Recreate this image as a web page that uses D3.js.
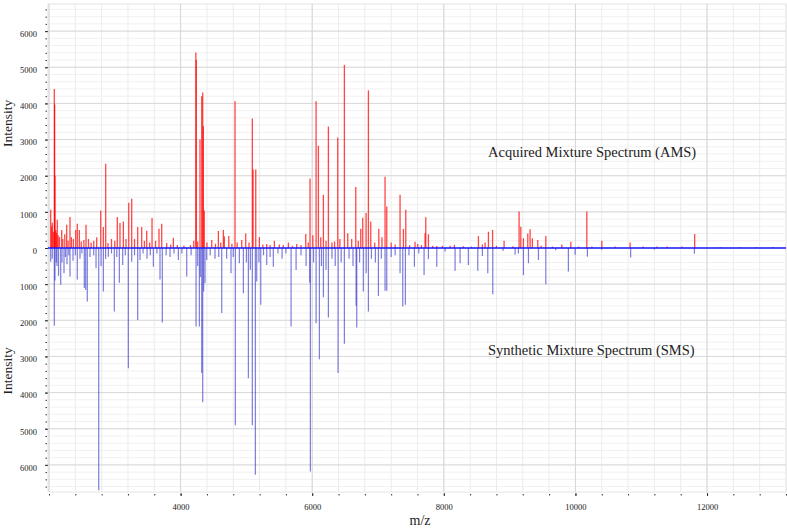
<!DOCTYPE html>
<html>
<head>
<meta charset="utf-8">
<script src="https://cdn.jsdelivr.net/npm/d3@7"></script>
<style>
body { margin: 0; background: #fff; }
text { font-family: "Liberation Serif", "Times New Roman", serif; fill: #222; }
</style>
</head>
<body>
<script>
// Acquired Mixture Spectrum (upward, red)
const amsMz = [2026, 2041, 2050, 2066, 2081, 2086, 2091, 2103, 2112, 2126, 2140, 2160, 2193, 2210, 2240, 2269, 2290, 2319, 2340, 2370,
  2406, 2430, 2461, 2490, 2530, 2563, 2600, 2640, 2680, 2725, 2786, 2826, 2862, 2897, 2950, 3000, 3038, 3079, 3130, 3170,
  3212, 3257, 3300, 3348, 3409, 3450, 3485, 3530, 3566, 3620, 3672, 3713, 3789, 3850, 3890, 3950, 4050, 4150, 4200, 4232,
  4238, 4260, 4295, 4321, 4336, 4346, 4360, 4400, 4473, 4530, 4574, 4610, 4650, 4665, 4732, 4780, 4827, 4860, 4929, 4990,
  5040, 5090, 5101, 5142, 5197, 5250, 5309, 5360, 5425, 5500, 5560, 5638, 5700, 5765, 5830, 5902, 5940, 5967, 6010, 6059,
  6094, 6130, 6170, 6210, 6246, 6300, 6340, 6388, 6420, 6489, 6540, 6600, 6662, 6700, 6738, 6768, 6819, 6854, 6890, 6950,
  7012, 7060, 7107, 7133, 7200, 7260, 7335, 7386, 7422, 7480, 7563, 7604, 7660, 7715, 7726, 7766, 7830, 7893, 7978, 8095,
  8161, 8298, 8420, 8526, 8586, 8627, 8678, 8741, 8800, 8916, 9050, 9144, 9170, 9210, 9276, 9311, 9346, 9428, 9480, 9550,
  9650, 9793, 9930, 10050, 10173, 10250, 10401, 10603, 10831, 11029, 11237, 11394, 11617, 11812, 12199, 12500, 12747, 13000];
const amsInt = [1055, 600, 700, 450, 4400, 3970, 2000, 500, 420, 780, 350, 300, 500, 250, 380, 640, 200, 860, 300, 250,
  500, 670, 500, 180, 220, 640, 250, 150, 200, 300, 1040, 580, 2330, 140, 250, 200, 860, 690, 730, 250,
  1250, 1360, 250, 580, 580, 200, 480, 150, 830, 200, 530, 670, 140, 100, 280, 80, 60, 80, 200, 5410,
  5200, 180, 3000, 4200, 4300, 3370, 1040, 150, 220, 120, 470, 150, 500, 320, 330, 120, 4060, 150, 220, 400,
  150, 3580, 2170, 2170, 300, 100, 110, 80, 200, 100, 80, 150, 60, 110, 80, 390, 150, 1920, 350, 4060,
  2830, 300, 1470, 200, 3360, 150, 180, 3060, 250, 5065, 410, 250, 1690, 200, 530, 840, 970, 4360, 730, 150,
  530, 300, 1970, 1150, 150, 100, 1470, 530, 1055, 80, 175, 110, 80, 410, 850, 380, 60, 55, 60, 60,
  90, 50, 40, 330, 100, 150, 450, 500, 60, 200, 50, 1010, 590, 270, 400, 520, 270, 220, 60, 330,
  40, 100, 175, 40, 1010, 40, 200, 40, 150, 40, 40, 40, 40, 390, 30, 30, 30, 30];

// Synthetic Mixture Spectrum (downward, blue)
const smsMz = [2026, 2050, 2081, 2091, 2110, 2122, 2145, 2178, 2198, 2228, 2250, 2274, 2300, 2319, 2365, 2400, 2430, 2471, 2500, 2537,
  2558, 2582, 2623, 2680, 2715, 2756, 2791, 2826, 2860, 2902, 2950, 2993, 3030, 3069, 3120, 3160, 3206, 3257, 3300, 3348,
  3383, 3430, 3490, 3540, 3586, 3640, 3687, 3722, 3780, 3839, 3900, 3966, 4020, 4093, 4160, 4235, 4260, 4285, 4300, 4321,
  4336, 4350, 4371, 4397, 4450, 4523, 4580, 4625, 4700, 4766, 4800, 4832, 4893, 4954, 5000, 5030, 5060, 5090, 5136, 5157,
  5190, 5218, 5260, 5309, 5360, 5409, 5480, 5542, 5600, 5679, 5755, 5830, 5907, 5962, 5972, 6020, 6059, 6109, 6140, 6170,
  6210, 6246, 6300, 6350, 6393, 6440, 6489, 6560, 6620, 6667, 6677, 6720, 6777, 6820, 6854, 6900, 6960, 7006, 7050, 7107,
  7133, 7200, 7260, 7335, 7376, 7416, 7470, 7553, 7620, 7700, 7766, 7893, 8020, 8171, 8247, 8373, 8516, 8586, 8668, 8744,
  8900, 9083, 9133, 9210, 9286, 9438, 9550, 9700, 9893, 9995, 10182, 10400, 10839, 11200, 11808];
const smsInt = [380, 300, 2150, 900, 400, 500, 770, 1020, 400, 700, 250, 450, 200, 790, 350, 200, 870, 300, 150, 1110,
  1160, 1480, 250, 200, 560, 6700, 500, 1200, 300, 240, 150, 1760, 250, 960, 470, 200, 3330, 380, 200, 1990,
  330, 150, 300, 200, 520, 150, 870, 2060, 200, 250, 150, 330, 150, 790, 200, 2170, 500, 2170, 800, 3460,
  4270, 1200, 970, 330, 200, 300, 250, 1800, 300, 700, 250, 4900, 420, 1250, 400, 3600, 600, 4900, 6270, 930,
  400, 1570, 200, 470, 250, 520, 150, 300, 150, 2170, 610, 200, 500, 960, 6180, 400, 2080, 3080, 500, 1360,
  600, 1920, 300, 500, 3460, 400, 2650, 300, 500, 1600, 2200, 400, 1200, 700, 1760, 300, 400, 1330, 300, 1180,
  1180, 250, 200, 700, 1620, 1570, 200, 520, 150, 750, 310, 520, 100, 630, 420, 470, 630, 220, 700, 1280,
  80, 190, 150, 750, 420, 330, 1000, 60, 650, 190, 240, 50, 260, 40, 160];

const yTickLabels = [-6000, -5000, -4000, -3000, -2000, -1000, 0, 1000, 2000, 3000, 4000, 5000, 6000];
const xTickLabels = [4000, 6000, 8000, 10000, 12000];

const width = 787, height = 528;
const plotLeft = 48, plotRight = 786, plotTop = 4, plotBottom = 492;

const svg = d3.select("body").append("svg")
    .attr("width", width)
    .attr("height", height);

const x = d3.scaleLinear().domain([1985, 13200]).range([plotLeft, plotRight]);
const y = d3.scaleLinear().domain([-6750, 6750]).range([plotBottom, plotTop]);

const xMinor = d3.range(2000, 13201, 400);
const yMinor = d3.range(-6600, 6601, 200);
const xMajor = d3.range(2000, 13201, 2000);

// plot frame
svg.append("rect")
    .attr("x", plotLeft).attr("y", plotTop)
    .attr("width", plotRight - plotLeft).attr("height", plotBottom - plotTop)
    .attr("fill", "#fff")
    .attr("stroke", "#e4e4e4");

// grid
const grid = svg.append("g");
grid.selectAll(".hmin").data(yMinor).enter().append("line")
    .attr("x1", plotLeft).attr("x2", plotRight)
    .attr("y1", d => y(d)).attr("y2", d => y(d))
    .attr("stroke", "#f1f1f1");
grid.selectAll(".vmin").data(xMinor).enter().append("line")
    .attr("y1", plotTop).attr("y2", plotBottom)
    .attr("x1", d => x(d)).attr("x2", d => x(d))
    .attr("stroke", "#ececec");
grid.selectAll(".hmaj").data(yTickLabels).enter().append("line")
    .attr("x1", plotLeft).attr("x2", plotRight)
    .attr("y1", d => y(d)).attr("y2", d => y(d))
    .attr("stroke", "#d8d8d8");
grid.selectAll(".vmaj").data(xMajor).enter().append("line")
    .attr("y1", plotTop).attr("y2", plotBottom)
    .attr("x1", d => x(d)).attr("x2", d => x(d))
    .attr("stroke", "#d6d6d6");

// peaks
svg.append("g").selectAll("line")
    .data(amsMz)
    .enter().append("line")
    .attr("x1", d => x(d)).attr("x2", d => x(d))
    .attr("y1", y(0))
    .attr("y2", (d, i) => y(amsInt[i]))
    .attr("stroke", "#ff0000")
    .attr("stroke-width", 1.3)
    .attr("stroke-opacity", 0.72);

svg.append("g").selectAll("line")
    .data(smsMz)
    .enter().append("line")
    .attr("x1", d => x(d)).attr("x2", d => x(d))
    .attr("y1", y(0))
    .attr("y2", (d, i) => y(-smsInt[i]))
    .attr("stroke", "#2626c8")
    .attr("stroke-width", 1.2)
    .attr("stroke-opacity", 0.6);

// baseline
svg.append("line")
    .attr("x1", plotLeft).attr("x2", plotRight)
    .attr("y1", y(0)).attr("y2", y(0))
    .attr("stroke", "#1a1aff")
    .attr("stroke-width", 1.5);

// axes
const yAxis = svg.append("g")
    .attr("transform", "translate(" + plotLeft + ",0)")
    .call(d3.axisLeft(y).tickValues(yTickLabels).tickFormat(d => Math.abs(d)).tickSize(3).tickPadding(8));
yAxis.selectAll("text").attr("dy", "0.62em").style("font-size", "8.5px");

svg.append("g")
    .attr("transform", "translate(" + (plotLeft - 1) + ",0)")
    .call(d3.axisLeft(y).tickValues(yMinor).tickFormat("").tickSize(1.5));

const xAxis = svg.append("g")
    .attr("transform", "translate(0," + (plotBottom + 1) + ")")
    .call(d3.axisBottom(x).tickValues(xTickLabels).tickFormat(d => d).tickSize(3).tickPadding(8));
xAxis.selectAll("text").style("font-size", "8.5px");

svg.append("g")
    .attr("transform", "translate(0," + (plotBottom + 2) + ")")
    .call(d3.axisBottom(x).tickValues(xMinor).tickFormat("").tickSize(1.5));

svg.selectAll(".domain").remove();
svg.selectAll(".tick line").attr("stroke", "#333");

// titles
svg.append("text")
    .attr("transform", "translate(12," + y(3450) + ") rotate(-90)")
    .attr("text-anchor", "middle")
    .style("font-size", "13.5px")
    .text("Intensity");

svg.append("text")
    .attr("transform", "translate(12," + y(-3400) + ") rotate(-90)")
    .attr("text-anchor", "middle")
    .style("font-size", "13.5px")
    .text("Intensity");

svg.append("text")
    .attr("x", (plotLeft + plotRight) / 2 + 3)
    .attr("y", 525)
    .attr("text-anchor", "middle")
    .style("font-size", "14px")
    .text("m/z");

svg.append("text")
    .attr("x", 488)
    .attr("y", 157)
    .style("font-size", "14.5px")
    .text("Acquired Mixture Spectrum (AMS)");

svg.append("text")
    .attr("x", 488)
    .attr("y", 355)
    .style("font-size", "14.5px")
    .text("Synthetic Mixture Spectrum (SMS)");
</script>
</body>
</html>
